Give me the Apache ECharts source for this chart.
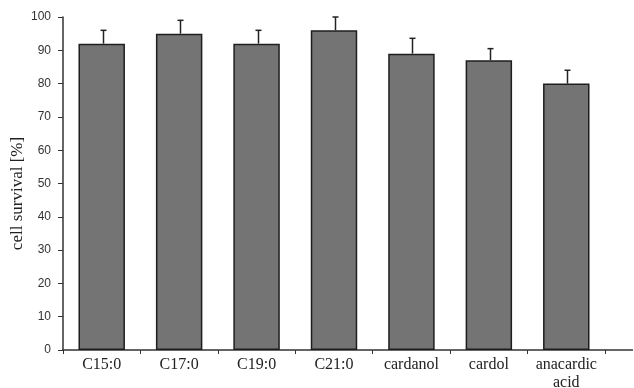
<!DOCTYPE html>
<html>
<head>
<meta charset="utf-8">
<script src="https://cdn.jsdelivr.net/npm/echarts@6/dist/echarts.min.js"></script>
<style>html,body{margin:0;padding:0;background:#fff}#c{width:634px;height:388px}</style>
</head>
<body>
<div id="c"></div>
<script>
const categories = ['C15:0', 'C17:0', 'C19:0', 'C21:0', 'cardanol', 'cardol', 'anacardic\nacid'];
const survival = [92, 95, 92, 96, 89, 87, 80];
const errorUpper = [96, 99, 96, 100, 93.6, 90.5, 84];
const yTicks = [0, 10, 20, 30, 40, 50, 60, 70, 80, 90, 100];

const chart = echarts.init(document.getElementById('c'), null, {renderer: 'canvas'});
const errData = categories.map((c, i) => [i, survival[i], errorUpper[i]]);
chart.setOption({
  animation: false,
  backgroundColor: '#fff',
  grid: {left: 63, right: 29, top: 17, bottom: 38, outerBoundsMode: 'none', containLabel: false},
  xAxis: {
    type: 'category',
    data: categories,
    axisLine: {lineStyle: {color: '#333', width: 1.5}},
    axisTick: {show: true, length: 4, inside: false, lineStyle: {color: '#333'}},
    axisLabel: {interval: 0, margin: 6, fontFamily: 'Liberation Serif', fontSize: 16, color: '#222', lineHeight: 18}
  },
  yAxis: {
    type: 'value',
    min: yTicks[0], max: yTicks[yTicks.length - 1], interval: 10,
    name: 'cell survival [%]',
    nameLocation: 'middle',
    nameGap: 37,
    nameMoveOverlap: false,
    nameRotate: 90,
    nameTextStyle: {fontFamily: 'Liberation Serif', fontSize: 17, color: '#222', padding: [0, 0, 0, -20]},
    splitLine: {show: false},
    axisLine: {show: true, lineStyle: {color: '#333', width: 1.5}},
    axisTick: {show: true, length: 5, lineStyle: {color: '#333'}},
    axisLabel: {margin: 12, fontFamily: 'Liberation Sans', fontSize: 12, color: '#333'}
  },
  graphic: [{
    type: 'line', shape: {x1: 605, y1: 350, x2: 633, y2: 350},
    style: {stroke: '#333', lineWidth: 1.5}
  }],
  series: [{
    type: 'bar',
    data: survival,
    barWidth: '60%',
    itemStyle: {color: '#747474', borderColor: '#1e1e1e', borderWidth: 1.5},
    z: 2
  }, {
    type: 'custom',
    data: errData,
    z: 3,
    renderItem: function (params, api) {
      const x = api.coord([api.value(0), api.value(1)]);
      const top = api.coord([api.value(0), api.value(2)]);
      const cx = Math.round(x[0]) + 1.5;
      return {
        type: 'group',
        children: [
          {type: 'line', shape: {x1: cx, y1: x[1], x2: cx, y2: top[1]}, style: {stroke: '#222', lineWidth: 1.5}},
          {type: 'line', shape: {x1: cx - 3, y1: top[1], x2: cx + 3, y2: top[1]}, style: {stroke: '#222', lineWidth: 1.5}}
        ]
      };
    }
  }]
});
</script>
</body>
</html>
